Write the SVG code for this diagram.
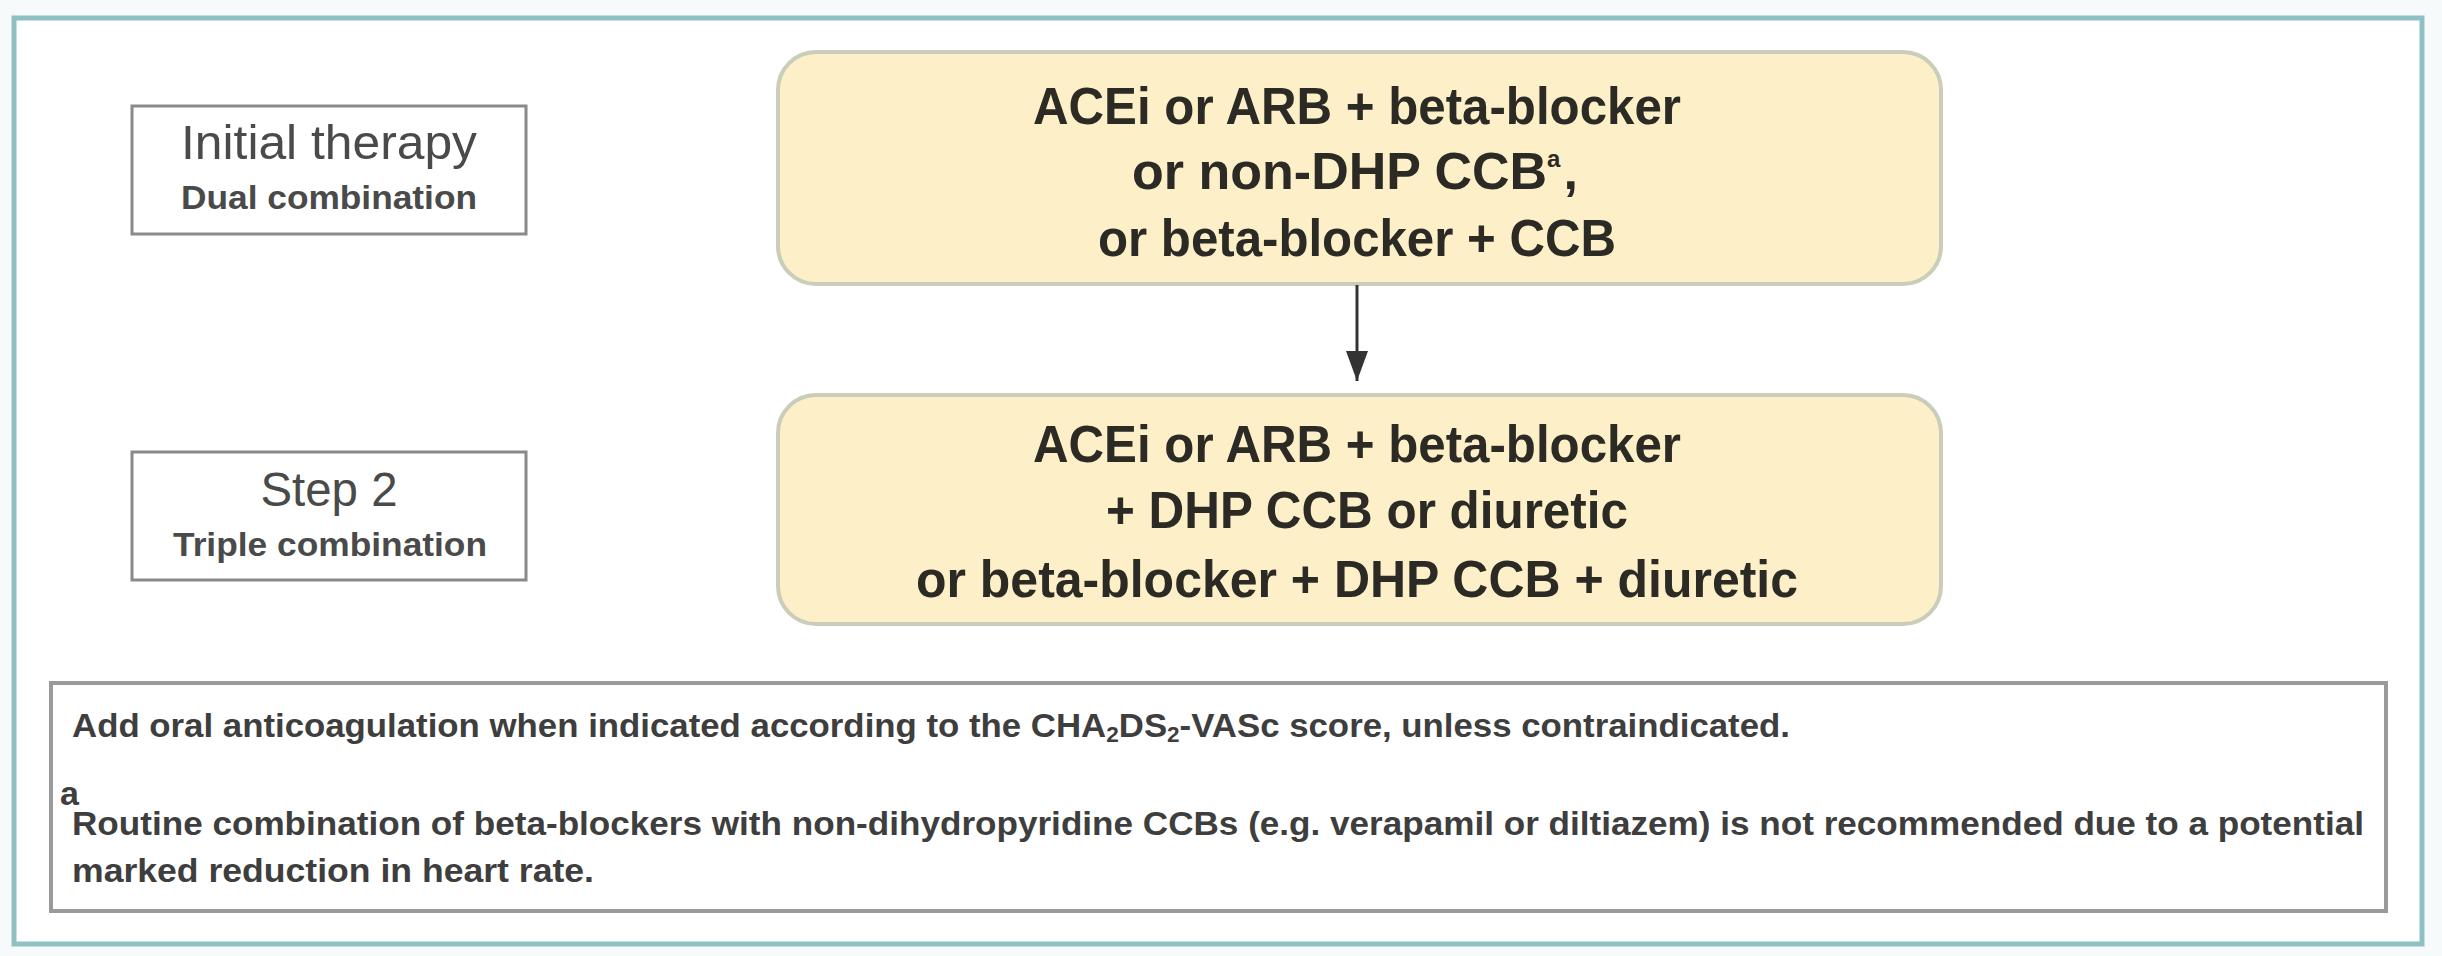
<svg xmlns="http://www.w3.org/2000/svg" width="2442" height="956" viewBox="0 0 2442 956">
<defs>
<style>
.frame{fill:#ffffff;stroke:#8fc0c4;stroke-width:5}
.label{fill:#ffffff;stroke:#8a8a8a;stroke-width:3}
.drug{fill:#fdf0c8;stroke:#c9cdb9;stroke-width:4}
.note{fill:#ffffff;stroke:#9a9a9a;stroke-width:4}
.t-title{font-family:"Liberation Sans",Arial,sans-serif;font-size:48px;fill:#4a4a4a;text-anchor:middle}
.t-sub{font-family:"Liberation Sans",Arial,sans-serif;font-size:34px;font-weight:bold;fill:#4a4a4a;text-anchor:middle}
.t-drug{font-family:"Liberation Sans",Arial,sans-serif;font-size:52px;font-weight:bold;fill:#2c2a24;text-anchor:middle}
.t-note{font-family:"Liberation Sans",Arial,sans-serif;font-size:34px;font-weight:bold;fill:#3e3e3e}
.conn{stroke:#333333;stroke-width:3;fill:none}
</style>
<marker id="arrow" markerUnits="userSpaceOnUse" markerWidth="30" markerHeight="22" viewBox="0 0 30 22" refX="30" refY="11" orient="auto">
<path d="M0,0 L30,11 L0,22 z" fill="#333333"/>
</marker>
</defs>
<rect x="0" y="0" width="2442" height="956" fill="#f6fafa"/>
<rect class="frame" x="14" y="18" width="2408" height="926"/>

<g id="label-initial">
<rect class="label" x="132" y="106" width="394" height="128"/>
<text class="t-title" x="329" y="159" textLength="296" lengthAdjust="spacingAndGlyphs">Initial therapy</text>
<text class="t-sub" x="329" y="209" textLength="296" lengthAdjust="spacingAndGlyphs">Dual combination</text>
</g>

<g id="label-step2">
<rect class="label" x="132" y="452" width="394" height="128"/>
<text class="t-title" x="329" y="506" textLength="137" lengthAdjust="spacingAndGlyphs">Step 2</text>
<text class="t-sub" x="330" y="556" textLength="314" lengthAdjust="spacingAndGlyphs">Triple combination</text>
</g>

<g id="box-dual">
<rect class="drug" x="778" y="52" width="1163" height="232" rx="38" ry="38"/>
<text class="t-drug" x="1357" y="124" textLength="648" lengthAdjust="spacingAndGlyphs">ACEi or ARB + beta-blocker</text>
<text class="t-drug" x="1355" y="189">or non-DHP CCB<tspan font-size="24" dy="-22">a</tspan><tspan dx="3" dy="22">,</tspan></text>
<text class="t-drug" x="1357" y="256" textLength="518" lengthAdjust="spacingAndGlyphs">or beta-blocker + CCB</text>
</g>

<g id="box-triple">
<rect class="drug" x="778" y="395" width="1163" height="229" rx="38" ry="38"/>
<text class="t-drug" x="1357" y="462" textLength="648" lengthAdjust="spacingAndGlyphs">ACEi or ARB + beta-blocker</text>
<text class="t-drug" x="1367" y="528" textLength="522" lengthAdjust="spacingAndGlyphs">+ DHP CCB or diuretic</text>
<text class="t-drug" x="1357" y="597" textLength="882" lengthAdjust="spacingAndGlyphs">or beta-blocker + DHP CCB + diuretic</text>
</g>

<g id="footnote">
<rect class="note" x="51" y="683" width="2335" height="228"/>
<text class="t-note" x="72" y="737" textLength="1718" lengthAdjust="spacingAndGlyphs">Add oral anticoagulation when indicated according to the CHA<tspan font-size="22" dy="5">2</tspan><tspan dy="-5">DS</tspan><tspan font-size="22" dy="5">2</tspan><tspan dy="-5">-VASc score, unless contraindicated.</tspan></text>
<text class="t-note" x="60" y="805" font-size="18px">a</text>
<text class="t-note" x="72" y="835" textLength="2292" lengthAdjust="spacingAndGlyphs">Routine combination of beta-blockers with non-dihydropyridine CCBs (e.g. verapamil or diltiazem) is not recommended due to a potential</text>
<text class="t-note" x="72" y="882" textLength="522" lengthAdjust="spacingAndGlyphs">marked reduction in heart rate.</text>
</g>

<g id="connectors">
<line class="conn" x1="1357" y1="285" x2="1357" y2="381" marker-end="url(#arrow)"/>
</g>
</svg>
